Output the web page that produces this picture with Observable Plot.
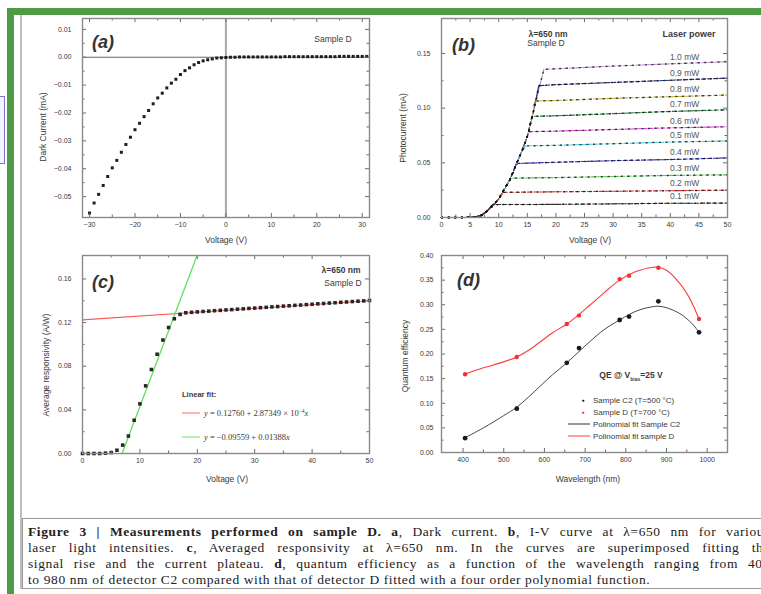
<!DOCTYPE html>
<html><head><meta charset="utf-8">
<script src="https://cdn.jsdelivr.net/npm/d3@7"></script>
<script src="https://cdn.jsdelivr.net/npm/@observablehq/plot@0.6"></script>
<style>
html,body{margin:0;padding:0;background:#fff;}
body{width:761px;height:594px;overflow:hidden;position:relative;font-family:"Liberation Sans",Arial,sans-serif;color:#3a3a3a;}
.abs{position:absolute;white-space:nowrap;}
.c{transform:translate(-50%,-50%);}
.l{transform:translate(0,-50%);}
.rot{transform:translate(-50%,-50%) rotate(-90deg);}
.pl{font-weight:bold;font-style:italic;font-size:18px;color:#333;}
.cap{position:absolute;left:22px;top:518px;width:780px;height:71px;border:1.5px solid #9a9a9a;box-sizing:border-box;}
.ln{position:absolute;left:5px;width:742px;font-family:"Liberation Serif","Times New Roman",serif;font-size:13.5px;line-height:16px;color:#222;letter-spacing:0.6px;white-space:nowrap;}
.j{text-align:justify;text-align-last:justify;white-space:normal;}
</style></head><body>
<script>
// ---------- Panel (a): dark current ----------
const aVoltage = [-30,-29,-28,-27,-26,-25,-24,-23,-22,-21,-20,-19,-18,-17,-16,-15,-14,-13,-12,-11,-10,-9,-8,-7,-6,-5,-4,-3,-2,-1,0,1,2,3,4,5,6,7,8,9,10,11,12,13,14,15,16,17,18,19,20,21,22,23,24,25,26,27,28,29,30,31];
const aDarkCurrent = [-0.0559,-0.0523,-0.0492,-0.0460,-0.0428,-0.0397,-0.0370,-0.0341,-0.0313,-0.0287,-0.0260,-0.0237,-0.0213,-0.0191,-0.0167,-0.0146,-0.0129,-0.0110,-0.0093,-0.0079,-0.0062,-0.0048,-0.0038,-0.0027,-0.0019,-0.0013,-0.0009,-0.0006,-0.0003,-0.0002,-0.0001,0.0000,0.0000,0.0001,0.0001,0.0001,0.0001,0.0001,0.0001,0.0001,0.0001,0.0001,0.0001,0.0002,0.0002,0.0002,0.0002,0.0002,0.0002,0.0002,0.0002,0.0002,0.0002,0.0002,0.0002,0.0003,0.0003,0.0003,0.0003,0.0003,0.0003,0.0003];
const aTicksX = [-30,-20,-10,0,10,20,30];
const aTicksY = [-0.05,-0.04,-0.03,-0.02,-0.01,0.00,0.01];

// ---------- Panel (b): photocurrent vs voltage ----------
const bPowerLabels = ["1.0 mW","0.9 mW","0.8 mW","0.7 mW","0.6 mW","0.5 mW","0.4 mW","0.3 mW","0.2 mW","0.1 mW"];
const bColors = ["#c48ae0","#23237a","#c8b828","#1d7a3a","#e040e0","#40d6e6","#2a2ac8","#50d050","#e83030","#333333"];
const bRiseV = [0,2,4,5,6,7,8,9,10,11,12,13,14,15,16,17];
const bRiseI = [0,0,0,0.0003,0.0008,0.002,0.006,0.011,0.017,0.026,0.035,0.048,0.060,0.074,0.095,0.117];
const bPlateauStartV = [17.9,17.0,16.3,15.8,15.3,14.7,13.5,12.4,10.9,8.9];
const bPlateauV = [20,30,40,50];
const bPlateauI = [
  [0.1355,0.1360,0.1385,0.1405,0.1425],
  [0.1205,0.1215,0.1235,0.1255,0.1275],
  [0.1065,0.1070,0.1090,0.1105,0.1120],
  [0.0925,0.0930,0.0950,0.0970,0.0985],
  [0.0785,0.0790,0.0805,0.0820,0.0830],
  [0.0655,0.0660,0.0675,0.0690,0.0700],
  [0.0495,0.0505,0.0520,0.0530,0.0545],
  [0.0360,0.0365,0.0375,0.0385,0.0390],
  [0.0230,0.0235,0.0240,0.0245,0.0250],
  [0.0118,0.0120,0.0125,0.0130,0.0132]
];
const bLabelV = 42.5;
const bTicksX = [0,5,10,15,20,25,30,35,40,45,50];
const bTicksY = [0.00,0.05,0.10,0.15];

// ---------- Panel (c): average responsivity ----------
const cVoltage = [0,1,2,3,4,5,6,7,8,9,10,11,12,13,14,15,16,17,18,19,20,21,22,23,24,25,26,27,28,29,30,31,32,33,34,35,36,37,38,39,40,41,42,43,44,45,46,47,48,49,50];
const cResponsivity = [0,0,0,0,0.0003,0.0008,0.0030,0.0077,0.0160,0.0305,0.0455,0.0620,0.0770,0.0910,0.1040,0.1155,0.1235,0.1275,0.1290,0.1294,0.1298,0.1302,0.1305,0.1309,0.1312,0.1316,0.1319,0.1323,0.1326,0.1330,0.1333,0.1337,0.1340,0.1344,0.1347,0.1351,0.1354,0.1358,0.1361,0.1365,0.1368,0.1372,0.1375,0.1379,0.1382,0.1386,0.1389,0.1393,0.1396,0.1399,0.1403];
const cPlateauFitX = [0,50];
const cPlateauFitY = [0.1225,0.1400];
const cRiseFitX = [6.5,20.5];
const cRiseFitY = [-0.0055,0.1890];
const cTicksX = [0,10,20,30,40,50];
const cTicksY = [0.00,0.04,0.08,0.12,0.16];

// ---------- Panel (d): quantum efficiency ----------
const dWavelength = [405,532,655,685,785,808,880,980];
const dQE_C2 = [0.029,0.089,0.182,0.212,0.269,0.276,0.307,0.244];
const dQE_D = [0.159,0.194,0.261,0.278,0.352,0.359,0.375,0.271];
const dFitWavelength = [405,450,500,532,560,590,620,655,685,710,738,760,785,810,835,866,880,900,933,955,966,980];
const dFitC2 = [0.030,0.050,0.075,0.092,0.112,0.135,0.158,0.182,0.205,0.224,0.244,0.257,0.269,0.281,0.290,0.296,0.297,0.294,0.282,0.268,0.259,0.244];
const dFitD = [0.159,0.172,0.184,0.194,0.207,0.225,0.243,0.261,0.280,0.298,0.318,0.334,0.350,0.362,0.370,0.376,0.376,0.370,0.343,0.316,0.298,0.271];
const dTicksX = [400,500,600,700,800,900,1000];
const dTicksY = [0.00,0.05,0.10,0.15,0.20,0.25,0.30,0.35,0.40];

// ---------- helpers ----------
function mids(t){ const m=[]; for(let i=0;i<t.length-1;i++) m.push((t[i]+t[i+1])/2); return m; }
function place(el, left, top){ el.style.position="absolute"; el.style.left=left+"px"; el.style.top=top+"px"; document.body.appendChild(el); }
function txt(html, x, y, cls, style){ const d=document.createElement("div"); d.className="abs "+(cls||"c"); d.innerHTML=html; d.style.left=x+"px"; d.style.top=y+"px"; if(style) Object.assign(d.style, style); document.body.appendChild(d); return d; }
function panel(o){
  const fw = o.width - o.ml - o.mr, fh = o.height - o.mt - o.mb;
  const xm = mids(o.xTicks), ym = mids(o.yTicks);
  const tc = "#6a6a6a";
  const p = Plot.plot({
    width:o.width, height:o.height, marginLeft:o.ml, marginRight:o.mr, marginTop:o.mt, marginBottom:o.mb,
    style:{fontFamily:"'Liberation Sans',Arial,sans-serif", fontSize:"7px", color:"#3a3a3a", background:"none", overflow:"visible"},
    x:{domain:o.xDomain, ticks:o.xTicks, tickSize:0, tickPadding:5, tickFormat:o.xFmt, label:null},
    y:{domain:o.yDomain, ticks:o.yTicks, tickSize:0, tickPadding:o.yPad||11, tickFormat:o.yFmt, label:null},
    color: o.color,
    marks:[
      ...o.marks,
      Plot.tickX(o.xTicks,{x:d=>d, insetTop:fh-4, stroke:tc}),
      Plot.tickX(o.xTicks,{x:d=>d, insetBottom:fh-4, stroke:tc}),
      Plot.tickX(xm,{x:d=>d, insetTop:fh-2.5, stroke:tc}),
      Plot.tickX(xm,{x:d=>d, insetBottom:fh-2.5, stroke:tc}),
      Plot.tickY(o.yTicks,{y:d=>d, insetRight:fw-4, stroke:tc}),
      Plot.tickY(o.yTicks,{y:d=>d, insetLeft:fw-4, stroke:tc}),
      Plot.tickY(ym,{y:d=>d, insetRight:fw-2.5, stroke:tc}),
      Plot.tickY(ym,{y:d=>d, insetLeft:fw-2.5, stroke:tc}),
      Plot.frame({stroke:"#8a8a8a", strokeWidth:1.4})
    ]
  });
  place(p, o.left, o.top);
}

// ---------- page decorations ----------
const green = document.createElement("div");
Object.assign(green.style,{width:"800px",height:"620px",borderLeft:"7px solid #4f9b45",borderTop:"7px solid #4f9b45",boxSizing:"border-box"});
place(green, 7, 8);
const gray = document.createElement("div");
Object.assign(gray.style,{width:"2px",height:"574px",background:"#bdbdbd"});
place(gray, 20, 15);
const blue = document.createElement("div");
Object.assign(blue.style,{width:"10px",height:"68px",border:"1px solid #7474d4",background:"#f5f5ff",boxSizing:"border-box"});
place(blue, -5, 96);

// ---------- panel (a) ----------
panel({left:30, top:10, width:345, height:237, ml:52, mr:6, mt:8, mb:30,
  xDomain:[-31.55,31.6], yDomain:[-0.0575,0.0139], xTicks:aTicksX, yTicks:aTicksY,
  xFmt:d3.format("d"), yFmt:d3.format(".2f"),
  marks:[
    Plot.ruleX([0],{stroke:"#a8a8a8", strokeWidth:2}),
    Plot.ruleY([0],{stroke:"#555", strokeWidth:0.9}),
    Plot.dot(aVoltage.map((v,i)=>({v, c:aDarkCurrent[i]})),{x:"v", y:"c", symbol:"square", r:1.7, fill:"#1e1e1e", stroke:"none"})
  ]});
txt("Dark Current (mA)", 43, 127, "rot", {fontSize:"8.5px"});
txt("Voltage (V)", 226, 240, "c", {fontSize:"8.5px"});
txt("(a)", 92, 42, "l pl");
txt("Sample D", 333, 39, "c", {fontSize:"8.5px"});

// ---------- panel (b) ----------
const bRows = [];
bPowerLabels.forEach((s,i)=>{
  const start = bPlateauStartV[i];
  bRiseV.forEach((v,j)=>{ if(v<start) bRows.push({series:s, V:v, I:bRiseI[j]}); });
  bRows.push({series:s, V:start, I:bPlateauI[i][0]});
  bPlateauV.forEach((v,j)=>bRows.push({series:s, V:v, I:bPlateauI[i][j+1]}));
});
panel({left:390, top:10, width:345, height:237, ml:51, mr:8, mt:8, mb:30,
  xDomain:[0,50], yDomain:[0,0.182], xTicks:bTicksX, yTicks:bTicksY,
  xFmt:d3.format("d"), yFmt:d3.format(".2f"),
  color:{domain:bPowerLabels, range:bColors},
  marks:[
    Plot.line(bRows,{x:"V", y:"I", z:"series", stroke:"series", strokeWidth:1.1, strokeDasharray:"4,2"}),
    Plot.line(bRows,{x:"V", y:"I", z:"series", stroke:"#151515", strokeWidth:1.4, strokeDasharray:"1.2,5.4", strokeOpacity:0.8}),
    Plot.text(bPowerLabels.map((s,i)=>({s, I:bPlateauI[i][3]})),{x:()=>bLabelV, y:"I", text:"s", dy:-7, fontSize:8.5, fill:"#555"})
  ]});
txt("Photocurrent (mA)", 403, 128, "rot", {fontSize:"8.5px"});
txt("Voltage (V)", 590, 240, "c", {fontSize:"8.5px"});
txt("(b)", 452, 45, "l pl");
txt("λ=650 nm", 548, 34, "c", {fontSize:"8.5px", fontWeight:"bold"});
txt("Sample D", 546, 43, "c", {fontSize:"8.5px"});
txt("Laser power", 689, 34, "c", {fontSize:"9px", fontWeight:"bold"});

// ---------- panel (c) ----------
panel({left:30, top:247, width:345, height:236, ml:52, mr:6, mt:8, mb:30,
  xDomain:[0,50], yDomain:[0,0.1815], xTicks:cTicksX, yTicks:cTicksY,
  xFmt:d3.format("d"), yFmt:d3.format(".2f"),
  marks:[
    Plot.line(cPlateauFitX.map((x,i)=>({x, y:cPlateauFitY[i]})),{x:"x", y:"y", stroke:"#ff5a5a", strokeWidth:1.1}),
    Plot.line(cRiseFitX.map((x,i)=>({x, y:cRiseFitY[i]})),{x:"x", y:"y", stroke:"#5ee05e", strokeWidth:1.3, clip:true}),
    Plot.dot(cVoltage.map((v,i)=>({v, r:cResponsivity[i]})),{x:"v", y:"r", symbol:"square", r:2, fill:"#262626", stroke:"none"})
  ]});
txt("Average responsivity (A/W)", 46, 365, "rot", {fontSize:"8.5px"});
txt("Voltage (V)", 227, 479, "c", {fontSize:"8.5px"});
txt("(c)", 92, 282, "l pl");
txt("λ=650 nm", 341, 270, "c", {fontSize:"8.5px", fontWeight:"bold"});
txt("Sample D", 343, 283, "c", {fontSize:"8.5px"});
txt("Linear fit:", 182, 394, "l", {fontSize:"7.5px", fontWeight:"bold"});
txt("", 182, 413, "l", {width:"18px", height:"0px", borderTop:"1.2px solid #ff6a6a"});
txt("<i>y</i> = 0.12760 + 2.87349 × 10<sup style='font-size:5.5px'>−4</sup><i>x</i>", 204, 413, "l", {fontSize:"8.5px", fontFamily:"'Liberation Serif',serif"});
txt("", 182, 437, "l", {width:"18px", height:"0px", borderTop:"1.3px solid #6ee66e"});
txt("<i>y</i> = −0.09559 + 0.01388<i>x</i>", 204, 437, "l", {fontSize:"8.5px", fontFamily:"'Liberation Serif',serif"});

// ---------- panel (d) ----------
panel({left:390, top:247, width:345, height:236, ml:51, mr:8, mt:8, mb:31,
  xDomain:[347,1050], yDomain:[0,0.40], xTicks:dTicksX, yTicks:dTicksY,
  xFmt:d3.format("d"), yFmt:d3.format(".2f"), yPad:8,
  marks:[
    Plot.line(dFitWavelength.map((w,i)=>({w, q:dFitC2[i]})),{x:"w", y:"q", stroke:"#333", strokeWidth:0.9, curve:"catmull-rom"}),
    Plot.line(dFitWavelength.map((w,i)=>({w, q:dFitD[i]})),{x:"w", y:"q", stroke:"#ff3a3a", strokeWidth:1.1, curve:"catmull-rom"}),
    Plot.dot(dWavelength.map((w,i)=>({w, q:dQE_C2[i]})),{x:"w", y:"q", r:2.4, fill:"#1a1a1a", stroke:"none"}),
    Plot.dot(dWavelength.map((w,i)=>({w, q:dQE_D[i]})),{x:"w", y:"q", r:2.2, fill:"#e33", stroke:"none"})
  ]});
txt("Quantum efficiency", 405, 356, "rot", {fontSize:"8.5px"});
txt("Wavelength (nm)", 588, 479, "c", {fontSize:"8.5px"});
txt("(d)", 457, 280, "l pl");
txt("QE @ V<sub style='font-size:5px'>bias</sub>=25 V", 631, 376, "c", {fontSize:"8.5px", fontWeight:"bold"});
txt("●", 583, 400, "c", {fontSize:"5px", color:"#111"});
txt("Sample C2 (T=500 °C)", 593, 400, "l", {fontSize:"8px"});
txt("●", 583, 412, "c", {fontSize:"5px", color:"#e33"});
txt("Sample D (T=700 °C)", 593, 412, "l", {fontSize:"8px"});
txt("", 568, 424, "l", {width:"22px", height:"0px", borderTop:"1px solid #333"});
txt("Polinomial fit Sample C2", 593, 424, "l", {fontSize:"8px"});
txt("", 568, 436, "l", {width:"22px", height:"0px", borderTop:"1px solid #ff3a3a"});
txt("Polinomial fit sample D", 593, 436, "l", {fontSize:"8px"});

// ---------- caption ----------
const cap = document.createElement("div");
cap.className = "cap";
cap.innerHTML =
 "<div class='ln j' style='top:5px'><b>Figure 3 | Measurements performed on sample D. a</b>, Dark current. <b>b</b>, I-V curve at λ=650 nm for various</div>" +
 "<div class='ln j' style='top:21px'>laser light intensities. <b>c</b>, Averaged responsivity at λ=650 nm. In the curves are superimposed fitting the</div>" +
 "<div class='ln j' style='top:37px'>signal rise and the current plateau. <b>d</b>, quantum efficiency as a function of the wavelength ranging from 400</div>" +
 "<div class='ln' style='top:53px'>to 980 nm of detector C2 compared with that of detector D fitted with a four order polynomial function.</div>";
document.body.appendChild(cap);
</script>
</body></html>
